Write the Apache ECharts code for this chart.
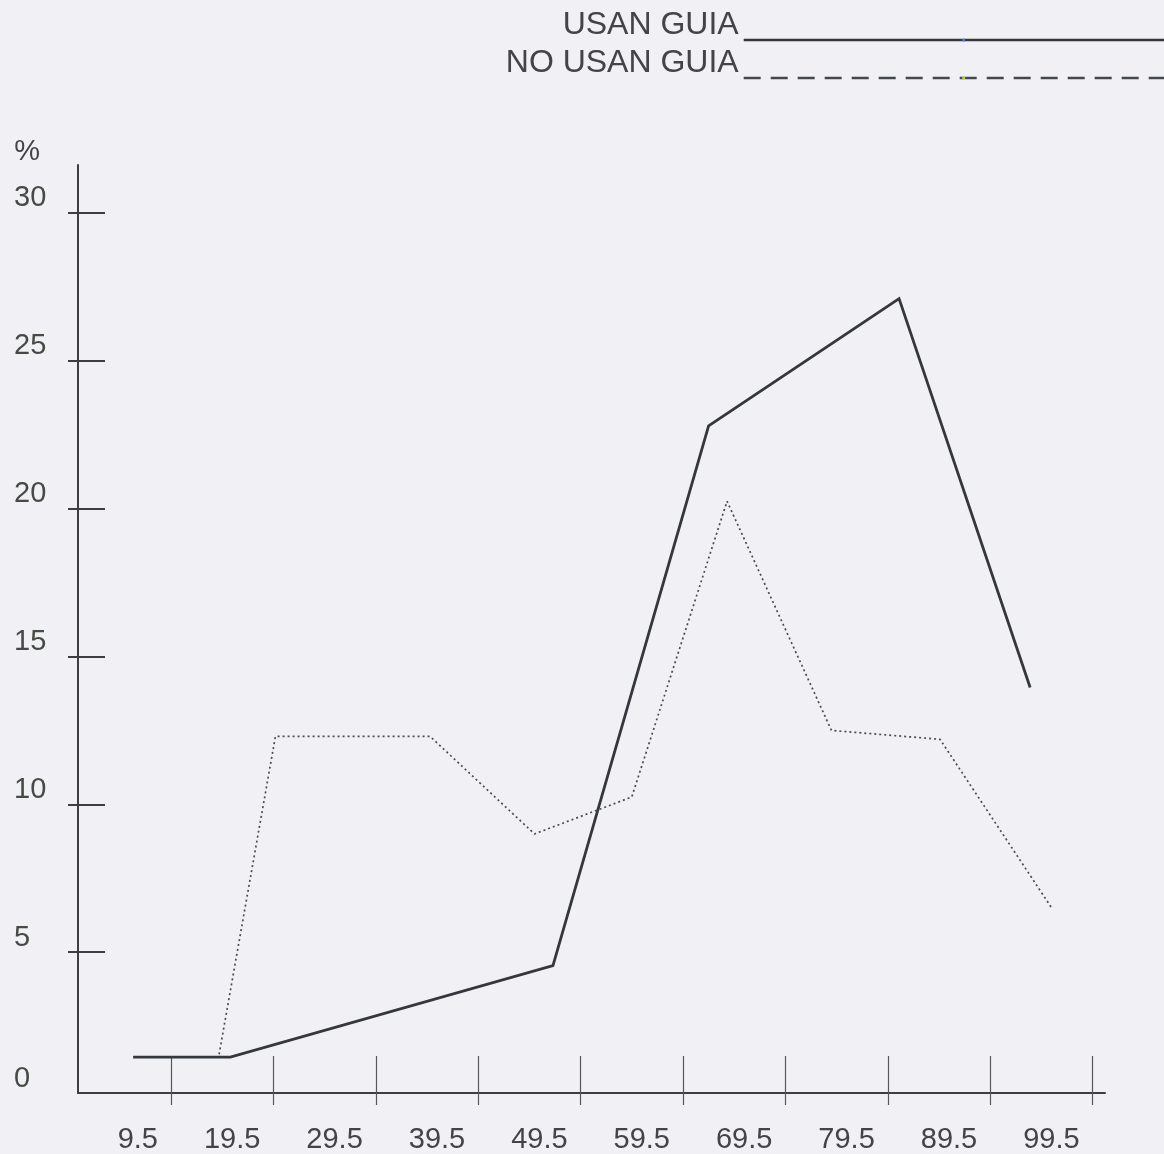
<!DOCTYPE html>
<html>
<head>
<meta charset="utf-8">
<script src="https://cdn.jsdelivr.net/npm/echarts@6/dist/echarts.min.js"></script>
<style>
  html, body { margin: 0; padding: 0; background: #f1f1f5; }
  #chart { width: 1164px; height: 1154px; }
</style>
</head>
<body>
<div id="chart"></div>
<script>
// series names (legend)
var seriesNames = ['USAN GUIA', 'NO USAN GUIA'];

// USAN GUIA (solid line)
var usanX = [6.3, 15.8, 47.3, 62.5, 81.1, 93.9];
var usanY = [1.45, 1.45, 4.55, 22.8, 27.1, 13.95];

// NO USAN GUIA (dotted line)
var noUsanX = [14.7, 20.2, 35.3, 45.5, 55.0, 64.3, 74.5, 85.1, 96.0];
var noUsanY = [1.55, 12.3, 12.3, 9.0, 10.25, 20.25, 12.5, 12.2, 6.5];

// x axis: ticks and their labels
var xTickValues = [10, 20, 30, 40, 50, 60, 70, 80, 90, 100];
var xTickLabels = ['9.5', '19.5', '29.5', '39.5', '49.5', '59.5', '69.5', '79.5', '89.5', '99.5'];

// y axis: ticks and labels (first label sits on the axis bottom)
var yTickValues = [5, 10, 15, 20, 25, 30];
var yTickLabels = ['0', '5', '10', '15', '20', '25', '30'];

var xMin = 0.92, xMax = 101.21;
var yMin = 0.24, yMax = 31.62;

function pairs(xs, ys) {
  var out = [];
  for (var i = 0; i < xs.length; i++) out.push([xs[i], ys[i]]);
  return out;
}

var yLabelValues = [yMin].concat(yTickValues);

var font = 'Liberation Sans, Arial, sans-serif';
var ink = '#444448';

var myChart = echarts.init(document.getElementById('chart'));
myChart.setOption({
  backgroundColor: '#f1f1f5',
  animation: false,
  legend: {
    orient: 'vertical',
    align: 'right',
    right: -21,
    top: 9,
    padding: 0,
    itemGap: -24,
    itemWidth: 440,
    itemHeight: 4,
    // empty second line lifts the name above the sample line
    formatter: function (name) { return name + '\n '; },
    textStyle: {
      fontFamily: font,
      fontSize: 32,
      lineHeight: 30,
      color: ink
    },
    data: [
      { name: seriesNames[0], lineStyle: { type: 'solid', width: 2.6, color: '#35373f' } },
      { name: seriesNames[1], lineStyle: { type: [17, 10], width: 2.4, color: '#45474f' } }
    ]
  },
  grid: {
    left: 78,
    right: 59,
    top: 165,
    bottom: 59
  },
  xAxis: [
    {
      type: 'value',
      position: 'bottom',
      min: xMin,
      max: xMax,
      splitLine: { show: false },
      axisLine: { show: true, onZero: false, lineStyle: { color: '#3c3e44', width: 2 } },
      axisTick: {
        show: true,
        inside: true,
        length: 37,
        customValues: xTickValues,
        lineStyle: { color: '#55575c', width: 1.2 }
      },
      axisLabel: {
        customValues: xTickValues,
        margin: 32,
        align: 'right',
        padding: [0, 13, 0, 0],
        fontFamily: font,
        fontSize: 29,
        lineHeight: 29,
        color: ink,
        formatter: function (v) {
          var i = xTickValues.indexOf(v);
          return i >= 0 ? xTickLabels[i] : '';
        }
      }
    },
    {
      // lower half of the crossing x ticks
      type: 'value',
      position: 'bottom',
      offset: 0,
      min: xMin,
      max: xMax,
      splitLine: { show: false },
      axisLine: { show: false, onZero: false },
      axisLabel: { show: false },
      axisTick: {
        show: true,
        inside: false,
        length: 12,
        customValues: xTickValues,
        lineStyle: { color: '#55575c', width: 1.2 }
      }
    }
  ],
  yAxis: [
    {
      type: 'value',
      position: 'left',
      min: yMin,
      max: yMax,
      name: '%',
      nameLocation: 'end',
      nameGap: 13,
      nameTextStyle: {
        fontFamily: font,
        fontSize: 29,
        color: ink,
        align: 'right',
        verticalAlign: 'middle',
        padding: [0, 38, 0, 0]
      },
      splitLine: { show: false },
      axisLine: { show: true, onZero: false, lineStyle: { color: '#3c3e44', width: 2 } },
      axisTick: {
        show: true,
        inside: true,
        length: 27,
        customValues: yTickValues,
        lineStyle: { color: '#3c3e44', width: 2 }
      },
      axisLabel: {
        customValues: yLabelValues,
        margin: 64,
        align: 'left',
        verticalAlign: 'bottom',
        fontFamily: font,
        fontSize: 29,
        lineHeight: 29,
        color: '#454b44',
        formatter: function (v) {
          var i = yLabelValues.indexOf(v);
          return i >= 0 ? yTickLabels[i] : '';
        }
      }
    },
    {
      // left stub of the crossing y ticks
      type: 'value',
      position: 'left',
      offset: 0,
      min: yMin,
      max: yMax,
      splitLine: { show: false },
      axisLine: { show: false, onZero: false },
      axisLabel: { show: false },
      axisTick: {
        show: true,
        inside: false,
        length: 10,
        customValues: yTickValues,
        lineStyle: { color: '#3c3e44', width: 2 }
      }
    }
  ],
  series: [
    {
      name: seriesNames[0],
      type: 'line',
      xAxisIndex: 0,
      yAxisIndex: 0,
      symbol: 'none',
      lineStyle: { color: '#35373f', width: 2.8, type: 'solid', join: 'miter' },
      data: pairs(usanX, usanY)
    },
    {
      name: seriesNames[1],
      type: 'line',
      xAxisIndex: 0,
      yAxisIndex: 0,
      symbol: 'none',
      lineStyle: { color: '#4a4c54', width: 1.7, type: [2, 3] },
      data: pairs(noUsanX, noUsanY)
    }
  ]
});
</script>
</body>
</html>
